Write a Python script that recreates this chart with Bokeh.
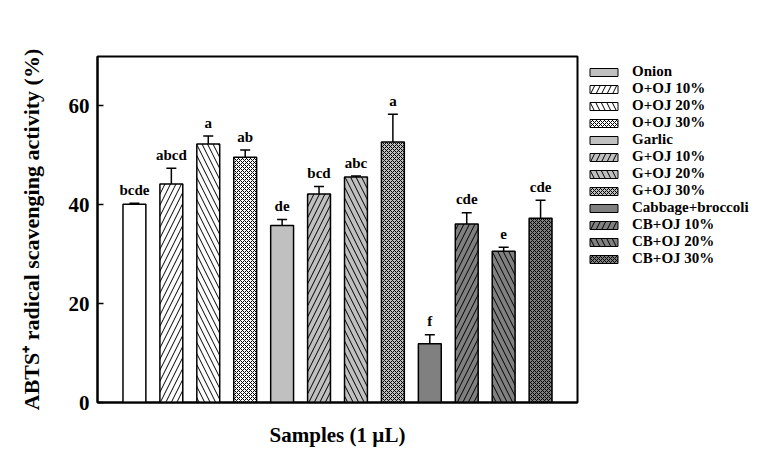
from bokeh.plotting import figure
from bokeh.layouts import row
from bokeh.models import (ColumnDataSource, Whisker, TeeHead, Legend, LegendItem,
                          Range1d, FixedTicker)
from bokeh.core.properties import value
from bokeh.embed import file_html
from bokeh.resources import INLINE

# ---- data ----
samples = ["Onion", "O+OJ 10%", "O+OJ 20%", "O+OJ 30%",
           "Garlic", "G+OJ 10%", "G+OJ 20%", "G+OJ 30%",
           "Cabbage+broccoli", "CB+OJ 10%", "CB+OJ 20%", "CB+OJ 30%"]
abts = [40.1, 44.2, 52.3, 49.6, 35.8, 42.2, 45.6, 52.7, 11.9, 36.1, 30.6, 37.3]
sd = [0.2, 3.2, 1.6, 1.5, 1.2, 1.5, 0.2, 5.6, 1.8, 2.3, 0.8, 3.6]
letters = ["bcde", "abcd", "a", "ab", "de", "bcd", "abc", "a", "f", "cde", "e", "cde"]
y_ticks = [0, 20, 40, 60]

# ---- styles ----
LIGHT = "#c0c0c0"
DARK = "#808080"
bar_fills = ["white"] * 4 + [LIGHT] * 4 + [DARK] * 4
legend_fills = [LIGHT] + ["white"] * 3 + [LIGHT] * 4 + [DARK] * 4
hatches = [" ", "/", "\\", "x"] * 3
hatch_scales = [11, 11, 11, 4] * 3
LABEL_PAD = 2.7  # gap between cap and letter, in data units

FONT = "Liberation Serif"
NAN = float("nan")

xs = list(range(1, len(samples) + 1))
uppers = [a + s for a, s in zip(abts, sd)]
src = ColumnDataSource(dict(
    x=xs, top=abts, upper=uppers, label_y=[u + LABEL_PAD for u in uppers],
    letter=letters, fill=bar_fills, hatch=hatches, hscale=hatch_scales,
))

p = figure(width=579, height=456, output_backend="svg", toolbar_location=None,
           x_range=Range1d(0, 13), y_range=Range1d(0, 70),
           min_border_left=97, min_border_right=2, min_border_top=56,
           min_border_bottom=54)
p.background_fill_color = "white"
p.border_fill_color = "white"
p.outline_line_color = "black"
p.outline_line_width = 2
p.xgrid.visible = False
p.ygrid.visible = False

p.vbar(x="x", top="top", width=0.62, source=src, fill_color="fill",
       line_color="black", line_width=1.5, hatch_pattern="hatch",
       hatch_color="black", hatch_scale="hscale", hatch_weight=1)

wh = Whisker(source=src, base="x", lower="top", upper="upper", dimension="height",
             line_color="black", line_width=1.5, lower_head=None,
             upper_head=TeeHead(size=10, line_color="black", line_width=1.5))
p.add_layout(wh)

p.text(x="x", y="label_y", text="letter", source=src, text_font=value(FONT),
       text_font_style="bold", text_font_size="15px", text_align="center",
       text_baseline="alphabetic", text_color="black")

# axes
p.yaxis.ticker = FixedTicker(ticks=y_ticks)
p.yaxis.major_tick_in = 6
p.yaxis.major_tick_out = 0
p.yaxis.minor_tick_line_color = None
p.yaxis.axis_line_width = 2
p.yaxis.major_tick_line_width = 1.5
p.yaxis.major_label_text_font = FONT
p.yaxis.major_label_text_font_style = "bold"
p.yaxis.major_label_text_font_size = "21px"
p.yaxis.major_label_text_color = "black"
p.yaxis.major_label_standoff = 8
p.yaxis.axis_label = "ABTS\u207a radical scavenging activity (%)"
p.yaxis.axis_label_text_font = FONT
p.yaxis.axis_label_text_font_style = "bold"
p.yaxis.axis_label_text_font_size = "22px"
p.yaxis.axis_label_text_color = "black"
p.yaxis.axis_label_standoff = 22

p.xaxis.ticker = FixedTicker(ticks=[])
p.xaxis.major_tick_in = 0
p.xaxis.major_tick_out = 0
p.xaxis.minor_tick_line_color = None
p.xaxis.axis_line_width = 2
p.xaxis.axis_label = "Samples (1 \u00b5L)"
p.xaxis.axis_label_text_font = FONT
p.xaxis.axis_label_text_font_style = "bold"
p.xaxis.axis_label_text_font_size = "21px"
p.xaxis.axis_label_text_color = "black"
p.xaxis.axis_label_standoff = 20

# ---- legend panel: a bare figure holding only the legend ----
lg = figure(width=176, height=456, output_backend="svg", toolbar_location=None,
            x_range=Range1d(0, 1), y_range=Range1d(0, 1),
            x_axis_location=None, y_axis_location=None,
            min_border_left=0, min_border_right=0, min_border_top=56,
            min_border_bottom=54)
lg.outline_line_color = None
lg.xgrid.visible = False
lg.ygrid.visible = False
lg.background_fill_color = "white"
lg.border_fill_color = "white"

items = []
for name, f, h, hs in zip(samples, legend_fills, hatches, hatch_scales):
    r = lg.vbar(x=[NAN], top=[NAN], width=0.5, fill_color=f, line_color="black",
                line_width=1, hatch_pattern=h, hatch_color="black",
                hatch_scale=hs, hatch_weight=1)
    items.append(LegendItem(label=name, renderers=[r]))

legend = Legend(items=items, location="top_left", glyph_width=35, glyph_height=10,
                label_standoff=11, label_height=16, spacing=0, padding=9, margin=7,
                border_line_color=None, background_fill_alpha=0,
                label_text_font=FONT, label_text_font_style="bold",
                label_text_font_size="15px", label_text_baseline="middle",
                label_text_color="black")
lg.add_layout(legend, "center")

layout = row(p, lg, spacing=0)
open("out.html", "w").write(file_html(layout, INLINE))
